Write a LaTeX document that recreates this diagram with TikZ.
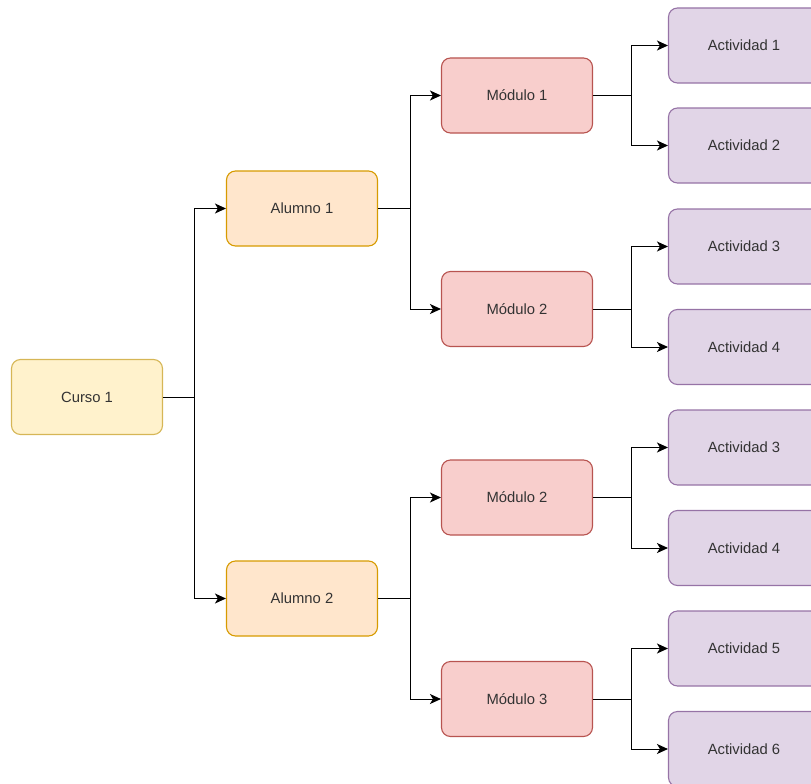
\documentclass[tikz,border=0pt]{standalone}
\usepackage{fontspec}
\setmainfont{Liberation Sans}
\usetikzlibrary{arrows.meta, positioning}

\definecolor{cursofill}{HTML}{FFF2CC}
\definecolor{cursoline}{HTML}{D6B656}
\definecolor{alumfill}{HTML}{FFE6CC}
\definecolor{alumline}{HTML}{D79B00}
\definecolor{modfill}{HTML}{F8CECC}
\definecolor{modline}{HTML}{B85450}
\definecolor{actfill}{HTML}{E1D5E7}
\definecolor{actline}{HTML}{9673A6}

\begin{document}
\begin{tikzpicture}[
	x=1pt, y=-1pt,
	box/.style = {rounded corners=9pt, line width=1.1pt, minimum width=151pt,
	              minimum height=75pt, align=center, text=black!80,
	              font=\fontsize{14.8}{17}\selectfont},
	curso/.style = {box, fill=cursofill, draw=cursoline},
	alum/.style  = {box, fill=alumfill, draw=alumline},
	modu/.style  = {box, fill=modfill, draw=modline},
	acti/.style  = {box, fill=actfill, draw=actline},
	arr/.style   = {line width=1pt, -{Stealth[length=11pt, width=10pt, inset=3pt]}}
     ]
		\useasboundingbox (0,0) rectangle (811,784);
%
		\node (c1) [curso] at (87,397) {Curso 1};
		\node (a1) [alum] at (302,208.5) {Alumno 1};
		\node (a2) [alum] at (302,598.5) {Alumno 2};
%
		\node (m1) [modu] at (517,95.5) {Módulo 1};
		\node (m2) [modu] at (517,309) {Módulo 2};
		\node (m2b) [modu] at (517,497.5) {Módulo 2};
		\node (m3) [modu] at (517,699) {Módulo 3};
%
		\node (t1) [acti] at (744,45.5) {Actividad 1};
		\node (t2) [acti] at (744,145.5) {Actividad 2};
		\node (t3) [acti] at (744,246.5) {Actividad 3};
		\node (t4) [acti] at (744,347) {Actividad 4};
		\node (t3b) [acti] at (744,447.5) {Actividad 3};
		\node (t4b) [acti] at (744,548) {Actividad 4};
		\node (t5) [acti] at (744,648.5) {Actividad 5};
		\node (t6) [acti] at (744,749) {Actividad 6};
%
		\draw[arr] (c1.east) -- ++(31,0) |- (a1.west);
		\draw[arr] (c1.east) -- ++(31,0) |- (a2.west);
%
		\draw[arr] (a1.east) -- ++(32,0) |- (m1.west);
		\draw[arr] (a1.east) -- ++(32,0) |- (m2.west);
		\draw[arr] (a2.east) -- ++(32,0) |- (m2b.west);
		\draw[arr] (a2.east) -- ++(32,0) |- (m3.west);
%
		\draw[arr] (m1.east) -- ++(38,0) |- (t1.west);
		\draw[arr] (m1.east) -- ++(38,0) |- (t2.west);
		\draw[arr] (m2.east) -- ++(38,0) |- (t3.west);
		\draw[arr] (m2.east) -- ++(38,0) |- (t4.west);
		\draw[arr] (m2b.east) -- ++(38,0) |- (t3b.west);
		\draw[arr] (m2b.east) -- ++(38,0) |- (t4b.west);
		\draw[arr] (m3.east) -- ++(38,0) |- (t5.west);
		\draw[arr] (m3.east) -- ++(38,0) |- (t6.west);
\end{tikzpicture}
\end{document}
